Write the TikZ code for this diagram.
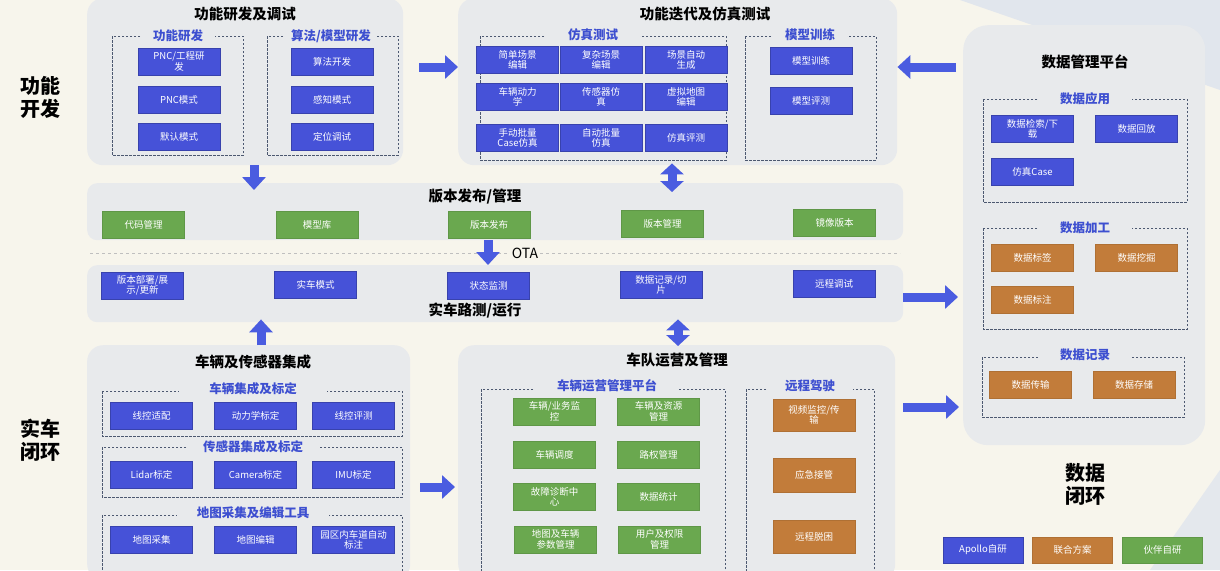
\documentclass[tikz,border=0pt]{standalone}
\usepackage{fontspec}
\setmainfont{Noto Sans CJK SC}
\usetikzlibrary{arrows.meta}
\definecolor{bgc}{HTML}{F7F5EC}
\definecolor{panelc}{HTML}{E8EAEC}
\definecolor{bblue}{HTML}{4652D8}
\definecolor{bgreen}{HTML}{6AA84F}
\definecolor{borange}{HTML}{C27C3A}
\definecolor{grpc}{HTML}{4C5870}
\definecolor{lblc}{HTML}{3D4FD0}
\definecolor{arrc}{HTML}{4A5CE0}
\definecolor{decoc}{HTML}{D3DCEE}
\tikzset{
 panel/.style={fill=panelc, draw=none, rounded corners=16pt, inner sep=0pt, anchor=north west},
 grpbox/.style={draw=grpc, dash pattern=on 2.5pt off 1.5pt, line width=1pt},
 grplbl/.style={fill=panelc, text=lblc, font=\fontsize{12.5}{13}\selectfont\bfseries, inner ysep=2pt, inner xsep=12pt},
 ptitle/.style={font=\fontsize{14.5}{15}\selectfont\bfseries, text=black},
 abox/.style={minimum width=82pt, minimum height=27pt, inner sep=1pt, align=center, text=white, font=\fontsize{9.5}{10.5}\selectfont, line width=0.8pt},
 bbox/.style={abox, fill=bblue, draw=bblue!80!black},
 gbox/.style={abox, fill=bgreen, draw=bgreen!90!black},
 obox/.style={abox, fill=borange, draw=borange!90!black},
 fat/.style={draw=arrc, line width=9pt, -{Triangle[width=23pt,length=13pt]}},
 fatt/.style={draw=arrc, line width=9pt, {Triangle[width=23pt,length=11pt]}-{Triangle[width=23pt,length=11pt]}},
 side/.style={font=\fontsize{20}{23}\selectfont\bfseries, align=center},
}
\begin{document}
\begin{tikzpicture}[x=1pt,y=-1pt]
\useasboundingbox (0,0) rectangle (1220,570);
\fill[bgc] (0,0) rectangle (1220,570);
\fill[decoc, opacity=0.6] (960,0) -- (1220,0) -- (1220,90) -- cycle;
\fill[decoc, opacity=0.5] (1150,570) -- (1220,470) -- (1220,570) -- cycle;

% panels
\node[panel, minimum width=316pt, minimum height=167pt] (pA) at (87,-2) {};
\node[panel, minimum width=439pt, minimum height=167pt] (pB) at (458,-2) {};
\node[panel, minimum width=816pt, minimum height=57pt, rounded corners=10pt] (pV) at (87,183) {};
\node[panel, minimum width=816pt, minimum height=57pt, rounded corners=10pt] (pR) at (87,265) {};
\node[panel, minimum width=323pt, minimum height=235pt] (pC) at (87,345) {};
\node[panel, minimum width=437pt, minimum height=235pt] (pD) at (458,345) {};
\node[panel, minimum width=242pt, minimum height=420pt, rounded corners=25pt] (pE) at (963,25) {};

% side labels
\node[side] (sA) at (40,97) {功能\\开发};
\node[side] (sC) at (40,440) {实车\\闭环};
\node[side] (sE) at (1085,484) {数据\\闭环};

% ---- top-left
\node[ptitle] (tA) at (245,14) {功能研发及调试};
\draw[grpbox] (112,36) rectangle (243,155);
\node[grplbl] (g1) at (178,36) {功能研发};
\node[bbox] (a1) at (179,61.5) {PNC/工程研\\发};
\node[bbox] (a2) at (179,99.5) {PNC模式};
\node[bbox] (a3) at (179,136.5) {默认模式};
\draw[grpbox] (267,36) rectangle (398,155);
\node[grplbl, inner xsep=6pt] (g2) at (331,36) {算法/模型研发};
\node[bbox] (a4) at (332,61.5) {算法开发};
\node[bbox] (a5) at (332,99.5) {感知模式};
\node[bbox] (a6) at (332,136.5) {定位调试};

% ---- top-middle
\node[ptitle] (tB) at (705,14) {功能迭代及仿真测试};
\draw[grpbox] (480,36) rectangle (726,160);
\node[grplbl, inner xsep=22pt] (g3) at (593,35) {仿真测试};
\begin{scope}[every node/.append style={minimum width=68pt}]
\node[bbox] (b1) at (517.5,60) {简单场景\\编辑};
\node[bbox] (b2) at (601,60) {复杂场景\\编辑};
\node[bbox] (b3) at (686,60) {场景自动\\生成};
\node[bbox] (b4) at (517.5,97) {车辆动力\\学};
\node[bbox] (b5) at (601,97) {传感器仿\\真};
\node[bbox] (b6) at (686,97) {虚拟地图\\编辑};
\node[bbox] (b7) at (517.5,138) {手动批量\\Case仿真};
\node[bbox] (b8) at (601,138) {自动批量\\仿真};
\node[bbox] (b9) at (686,138) {仿真评测};
\end{scope}
\draw[grpbox] (745,36) rectangle (876,160);
\node[grplbl] (g4) at (810,35) {模型训练};
\node[bbox] (b10) at (811,61) {模型训练};
\node[bbox] (b11) at (811,101) {模型评测};

% ---- version bar
\node[ptitle] (tV) at (475,197) {版本发布/管理};
\node[gbox] (v1) at (143.5,225) {代码管理};
\node[gbox] (v2) at (317,225) {模型库};
\node[gbox] (v3) at (489,225) {版本发布};
\node[gbox] (v4) at (662.5,224) {版本管理};
\node[gbox] (v5) at (834.5,222.5) {镜像版本};

% ---- OTA line
\draw[gray!50, dashed, line width=0.8pt] (90,253) -- (900,253);
\node[font=\fontsize{14}{15}\selectfont, fill=bgc, inner sep=2pt] (ota) at (525,253) {OTA};

% ---- real car bar
\node[ptitle] (tR) at (475,311) {实车路测/运行};
\node[bbox] (r1) at (142.5,285.5) {版本部署/展\\示/更新};
\node[bbox] (r2) at (315.5,285) {实车模式};
\node[bbox] (r3) at (488.5,285.5) {状态监测};
\node[bbox] (r4) at (661,285) {数据记录/切\\片};
\node[bbox] (r5) at (834,284) {远程调试};

% ---- bottom-left
\node[ptitle] (tC) at (253,362) {车辆及传感器集成};
\draw[grpbox] (102,391) rectangle (402,436);
\node[grplbl, inner xsep=30pt] (g5) at (253,389) {车辆集成及标定};
\node[bbox] (c1) at (151.5,415.5) {线控适配};
\node[bbox] (c2) at (255.5,415.5) {动力学标定};
\node[bbox] (c3) at (353.5,415.5) {线控评测};
\draw[grpbox] (102,447) rectangle (402,497);
\node[grplbl, inner xsep=16pt] (g6) at (253,447) {传感器集成及标定};
\node[bbox] (c4) at (151.5,474.5) {Lidar标定};
\node[bbox] (c5) at (255.5,474.5) {Camera标定};
\node[bbox] (c6) at (353.5,474.5) {IMU标定};
\draw[grpbox] (102,515) rectangle (402,575);
\node[grplbl, inner xsep=20pt] (g7) at (253,513) {地图采集及编辑工具};
\node[bbox] (c7) at (151.5,540) {地图采集};
\node[bbox] (c8) at (255.5,540) {地图编辑};
\node[bbox] (c9) at (353.5,540) {园区内车道自动\\标注};

% ---- bottom-middle
\node[ptitle] (tD) at (677,360) {车队运营及管理};
\draw[grpbox] (481,389) rectangle (725,575);
\node[grplbl, inner xsep=22pt] (g8) at (607,386) {车辆运营管理平台};
\node[gbox] (d1) at (554.5,411.5) {车辆/业务监\\控};
\node[gbox] (d2) at (658.5,411.5) {车辆及资源\\管理};
\node[gbox] (d3) at (554.5,455) {车辆调度};
\node[gbox] (d4) at (658.5,455) {路权管理};
\node[gbox] (d5) at (554.5,497) {故障诊断中\\心};
\node[gbox] (d6) at (658.5,497) {数据统计};
\node[gbox] (d7) at (555.5,539.5) {地图及车辆\\参数管理};
\node[gbox] (d8) at (659.5,539.5) {用户及权限\\管理};
\draw[grpbox] (746,389) rectangle (874,575);
\node[grplbl, inner xsep=18pt] (g9) at (810,386) {远程驾驶};
\node[obox, minimum height=32pt] (d9) at (814,415) {视频监控/传\\输};
\node[obox, minimum height=34pt] (d10) at (814,475) {应急接管};
\node[obox, minimum height=33pt] (d11) at (814,536.5) {远程脱困};

% ---- right panel
\node[ptitle] (tE) at (1085,62) {数据管理平台};
\draw[grpbox] (983,99) rectangle (1187,202);
\node[grplbl, inner xsep=22pt] (g10) at (1085,99) {数据应用};
\node[bbox] (e1) at (1032.5,129) {数据检索/下\\载};
\node[bbox] (e2) at (1136.5,129) {数据回放};
\node[bbox] (e3) at (1032.5,171.5) {仿真Case};
\draw[grpbox] (983,228) rectangle (1187,329);
\node[grplbl, inner xsep=22pt] (g11) at (1085,228) {数据加工};
\node[obox] (e4) at (1032.5,257.5) {数据标签};
\node[obox] (e5) at (1136.5,257.5) {数据挖掘};
\node[obox] (e6) at (1032.5,300) {数据标注};
\draw[grpbox] (982,357) rectangle (1184,417);
\node[grplbl, inner xsep=22pt] (g12) at (1085,355) {数据记录};
\node[obox] (e7) at (1030.5,385) {数据传输};
\node[obox] (e8) at (1134,385) {数据存储};

% ---- legend
\node[bbox, minimum width=80pt, minimum height=26pt] (l1) at (983,550) {Apollo自研};
\node[obox, minimum width=80pt, minimum height=26pt] (l2) at (1072.5,550) {联合方案};
\node[gbox, minimum width=80pt, minimum height=26pt] (l3) at (1162.5,550) {伙伴自研};

% ---- arrows
\coordinate (ar1) at (419,67);
\draw[fat] (ar1) -- (pB.west |- ar1);
\coordinate (ar2) at (956,67);
\draw[fat] (ar2) -- (pB.east |- ar2);
\draw[fat, shorten >=-7pt] (pA.south -| 254,0) -- (pV.north -| 254,0);
\draw[fatt, shorten >=-9pt, shorten <=-2pt] (pB.south -| 672,0) -- (pV.north -| 672,0);
\draw[fat] (pV.south -| 488,0) -- (pR.north -| 488,0);
\draw[fat, shorten >=-3pt] (pC.north -| 261,0) -- (pR.south -| 261,0);
\draw[fatt, shorten >=-3pt, shorten <=-1pt] (pD.north -| 678,0) -- (pR.south -| 678,0);
\draw[fat, shorten >=5pt] (pR.east |- 0,297) -- (pE.west |- 0,297);
\draw[fat, shorten <=8pt, shorten >=4pt] (pD.east |- 0,407) -- (pE.west |- 0,407);
\draw[fat, shorten <=10pt, shorten >=3pt] (pC.east |- 0,487) -- (pD.west |- 0,487);
\end{tikzpicture}
\end{document}
